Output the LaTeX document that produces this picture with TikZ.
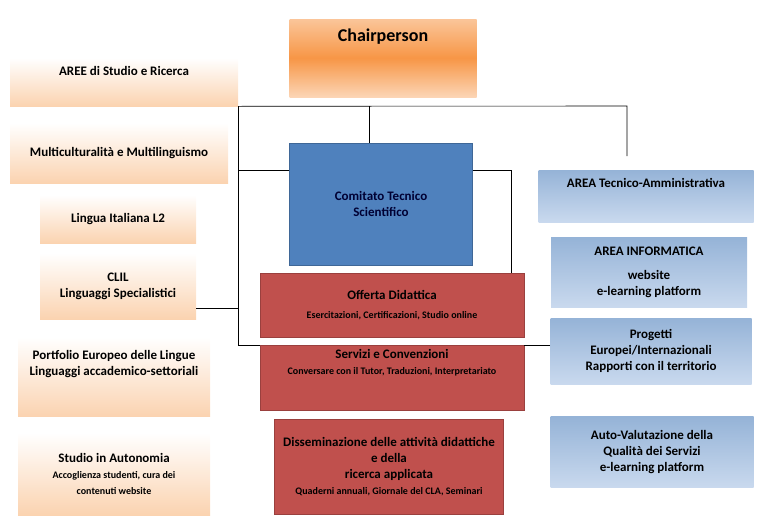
\documentclass[tikz,border=0pt]{standalone}
\usepackage{fontspec}
\setmainfont{Carlito}
\usetikzlibrary{positioning}

\definecolor{peach}{HTML}{FBD3B0}
\definecolor{orng}{HTML}{F79646}
\definecolor{steel}{HTML}{4F81BD}
\definecolor{brick}{HTML}{C0504D}
\definecolor{skyb}{HTML}{95B3D7}
\definecolor{skyl}{HTML}{C9D9EE}

\begin{document}
\begin{tikzpicture}[x=1pt,y=-1pt,font=\bfseries,
                    semithick]
  \tikzstyle{box}=[draw=none,inner sep=2pt,align=center,font=\bfseries\fontsize{13}{16}\selectfont]
  \tikzstyle{area}=[box,top color=white,bottom color=peach]
  \tikzstyle{chair}=[box,top color=orng!55,bottom color=orng!40,middle color=orng]
  \tikzstyle{tech}=[box,top color=skyb,bottom color=skyl]
  \tikzstyle{core}=[box,fill=brick,draw=brick!80!black]
  \tikzstyle{link}=[draw=black,semithick]

  \useasboundingbox (0,0) rectangle (765,525);

  % colonna sinistra
  \node[area,minimum width=228pt,minimum height=48pt] (aree) at (124,82)
       [label={[anchor=north,yshift=-5pt,font=\bfseries\fontsize{13}{16}\selectfont]north:AREE di Studio e Ricerca}] {};
  \node[area,minimum width=218pt,minimum height=60pt] (multi) at (119,153) {Multiculturalità e Multilinguismo};
  \node[area,minimum width=156pt,minimum height=48pt] (l2) at (118,219) {Lingua Italiana L2};
  \node[area,minimum width=156pt,minimum height=66pt] (clil) at (118,286) {CLIL\\Linguaggi Specialistici};
  \node[area,minimum width=192pt,minimum height=79pt] (port) at (114,377) {Portfolio Europeo delle Lingue\\Linguaggi accademico-settoriali\\[12pt]};
  \node[area,minimum width=192pt,minimum height=82pt] (auto) at (114,474) {Studio in Autonomia\\{\fontsize{10}{14}\selectfont Accoglienza studenti, cura dei}\\{\fontsize{10}{14}\selectfont contenuti website}};

  % centro
  \node[chair,minimum width=187pt,minimum height=78pt] (chair) at (383,58)
       [label={[anchor=north,yshift=-7pt,font=\bfseries\fontsize{18}{21}\selectfont]north:Chairperson}] {};
  \node[box,fill=steel,draw=steel!80!black,text=blue!20!black,minimum width=183pt,minimum height=122pt] (cts) at (381,204) {Comitato Tecnico\\Scientifico};
  \node[core,minimum width=264pt,minimum height=64pt] (offerta) at (392,305) {Offerta Didattica\\[3pt]{\fontsize{10}{12}\selectfont Esercitazioni, Certificazioni, Studio online}};
  \node[core,minimum width=264pt,minimum height=65pt] (servizi) at (392,378) {Servizi e Convenzioni\\{\fontsize{10}{13}\selectfont Conversare con il Tutor, Traduzioni, Interpretariato}\\[16pt]};
  \node[core,minimum width=229pt,minimum height=95pt] (diss) at (389,467) {Disseminazione delle attività didattiche\\e della\\ricerca applicata\\{\fontsize{10}{13}\selectfont Quaderni annuali, Giornale del CLA, Seminari}};

  % colonna destra
  \node[tech,minimum width=215pt,minimum height=52pt] (amm) at (646,196)
       [label={[anchor=north,yshift=-5pt,font=\bfseries\fontsize{13}{16}\selectfont]north:AREA Tecnico-Amministrativa}] {};
  \node[tech,minimum width=196pt,minimum height=70pt] (info) at (649,272) {AREA INFORMATICA\\[8pt]website\\e-learning platform};
  \node[tech,minimum width=201pt,minimum height=66pt] (prog) at (651,351) {Progetti\\Europei/Internazionali\\Rapporti con il territorio};
  \node[tech,minimum width=203pt,minimum height=71pt] (valut) at (652,452) {Auto-Valutazione della\\Qualità dei Servizi\\e-learning platform};

  % collegamenti
  \coordinate (top) at (238,106);
  \draw[link] (aree.south east) -- (627,106) -- (627,156);
  \draw[link] (369,106) -- (cts.north -| 369,0);
  \draw[link] (top) -- (238,345) -- (servizi.west |- 0,345);
  \draw[link] (238,170) -- (cts.west |- 0,170);
  \draw[link] (cts.east |- 0,170) -- (511,170) -- (offerta.north -| 511,0);
  \draw[link] (clil.east |- 0,308) -- (238,308);
  \draw[link] (prog.west |- 0,345) -- (servizi.east |- 0,345);
\end{tikzpicture}
\end{document}
